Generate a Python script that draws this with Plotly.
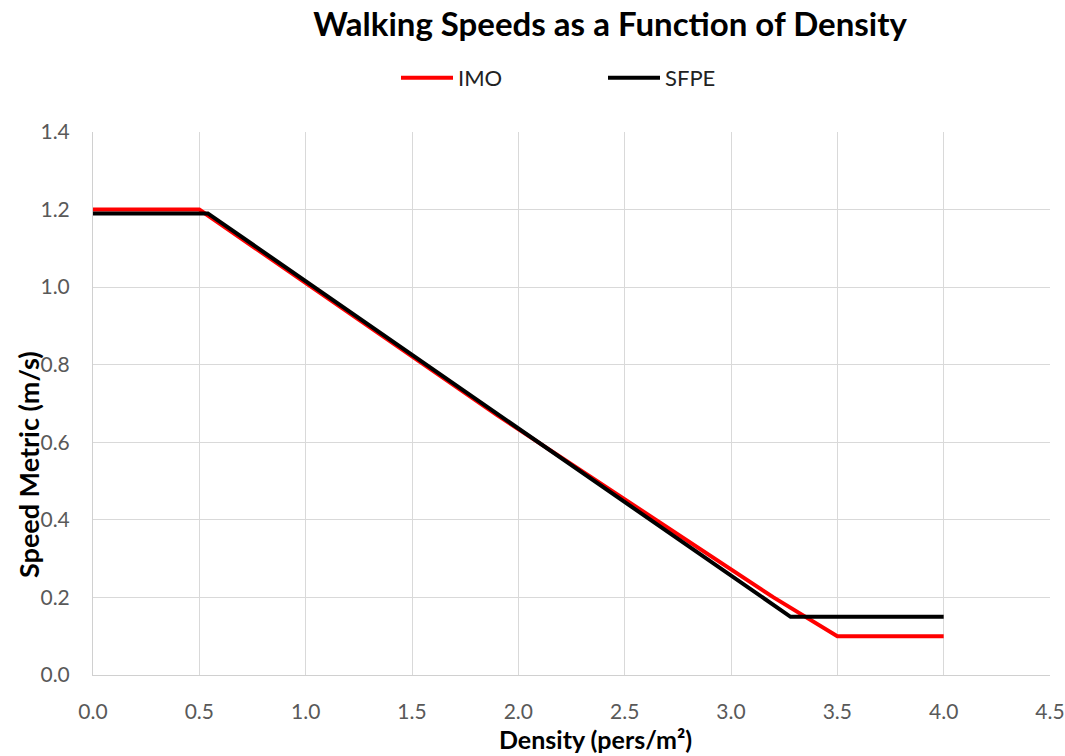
import plotly.graph_objects as go

# Walking speed vs. crowd density for two guidance models
imo_density = [0.0, 0.5, 1.9, 3.2, 3.5, 4.0]
imo_speed = [1.20, 1.20, 0.67, 0.20, 0.10, 0.10]

sfpe_density = [0.0, 0.54, 3.28, 4.0]
sfpe_speed = [1.19, 1.19, 0.15, 0.15]

x_ticks = [0.0, 0.5, 1.0, 1.5, 2.0, 2.5, 3.0, 3.5, 4.0, 4.5]
y_ticks = [0.0, 0.2, 0.4, 0.6, 0.8, 1.0, 1.2, 1.4]

FONT = "Lato"
W, H = 1065, 756
L, R, T, B = 93, 15, 132, 81
PW, PH = W - L - R, H - T - B

fig = go.Figure()
fig.add_trace(go.Scatter(x=imo_density, y=imo_speed, mode="lines", name="IMO",
                         line=dict(color="#ff0000", width=4)))
fig.add_trace(go.Scatter(x=sfpe_density, y=sfpe_speed, mode="lines", name="SFPE",
                         line=dict(color="#000000", width=4)))

fig.update_layout(
    width=W, height=H,
    margin=dict(l=L, r=R, t=T, b=B),
    plot_bgcolor="white", paper_bgcolor="white",
    font=dict(family=FONT, color="#595959"),
    title=dict(text="<b>Walking Speeds as a Function of Density</b>",
               x=610 / W, xanchor="center", y=1 - 24 / H, yanchor="middle",
               font=dict(family=FONT, size=33, color="#000000")),
    legend=dict(orientation="h", x=(396 - L) / PW, xanchor="left",
                y=(H - B - 78) / PH, yanchor="middle",
                font=dict(family=FONT, size=22, color="#222222"),
                entrywidth=140, entrywidthmode="pixels", itemwidth=52,
                bgcolor="rgba(0,0,0,0)"),
    xaxis=dict(range=[0, 4.5], tickvals=x_ticks,
               ticktext=[f"{v:.1f}" for v in x_ticks],
               showgrid=True, gridcolor="#d9d9d9", gridwidth=1,
               showline=True, linecolor="#d0d0d0", linewidth=1,
               zeroline=False, ticks="", ticklabelstandoff=18,
               automargin=False,
               tickfont=dict(family=FONT, size=21, color="#595959")),
    yaxis=dict(range=[0, 1.4], tickvals=y_ticks,
               ticktext=[f"{v:.1f}" for v in y_ticks],
               showgrid=True, gridcolor="#d9d9d9", gridwidth=1,
               showline=True, linecolor="#d0d0d0", linewidth=1,
               zeroline=False, ticks="", ticklabelstandoff=18,
               automargin=False,
               tickfont=dict(family=FONT, size=21, color="#595959")),
)

# Axis titles
fig.add_annotation(text="<b>Density (pers/m²)</b>", xref="paper", yref="paper",
                   x=(595 - L) / PW, y=-(739 - (H - B)) / PH,
                   xanchor="center", yanchor="middle", showarrow=False,
                   font=dict(family=FONT, size=25, color="#000000"))
fig.add_annotation(text="<b>Speed Metric (m/s)</b>", xref="paper", yref="paper",
                   x=-(L - 28) / PW, y=(H - B - 465) / PH,
                   xanchor="center", yanchor="middle", textangle=-90, showarrow=False,
                   font=dict(family=FONT, size=27, color="#000000"))

fig.write_html("out.html")
